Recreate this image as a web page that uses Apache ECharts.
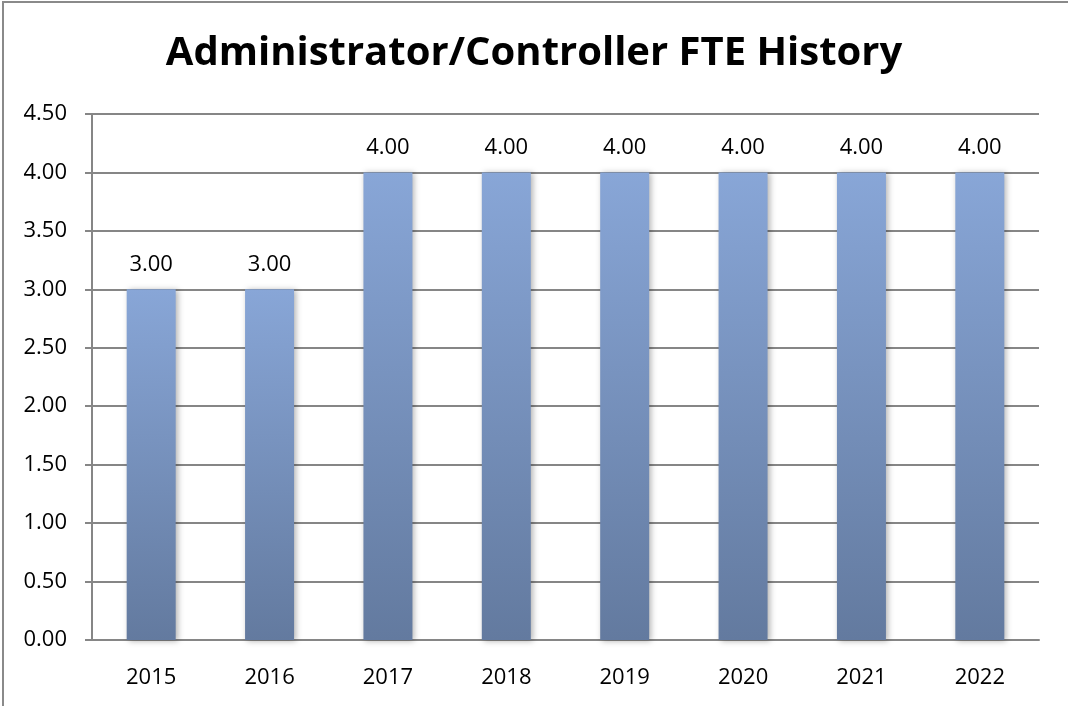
<!DOCTYPE html>
<html>
<head>
<meta charset="utf-8">
<script src="https://cdn.jsdelivr.net/npm/echarts@6/dist/echarts.min.js"></script>
<style>
  html, body { margin: 0; padding: 0; background: #fff; }
  #main { width: 1068px; height: 706px; }
</style>
</head>
<body>
<div id="main"></div>
<script>
// 数据
const years = ["2015", "2016", "2017", "2018", "2019", "2020", "2021", "2022"];
const fte = [3, 3, 4, 4, 4, 4, 4, 4];
const yTicks = { min: 0, max: 4.5, interval: 0.5 };

const chart = echarts.init(document.getElementById("main"));
const font = "Open Sans, Liberation Sans, sans-serif";

chart.setOption({
  animation: false,
  title: {
    text: "Administrator/Controller FTE History",
    left: "center",
    top: 29,
    textStyle: { fontFamily: font, fontSize: 40, fontWeight: "bold", color: "#000" }
  },
  graphic: [{
    type: "rect",
    shape: { x: 3, y: 2, width: 1200, height: 900 },
    style: { fill: "none", stroke: "#8a8a8a", lineWidth: 2 },
    silent: true
  }],
  grid: { left: 92, right: 29, top: 114, bottom: 66 },
  xAxis: {
    type: "category",
    data: years,
    axisLine: { lineStyle: { color: "#868686", width: 2 } },
    axisTick: { length: 8, lineStyle: { color: "#868686", width: 2 } },
    axisLabel: { color: "#000", fontFamily: font, fontSize: 22, margin: 27 }
  },
  yAxis: {
    type: "value",
    min: yTicks.min, max: yTicks.max, interval: yTicks.interval,
    axisLine: { show: true, lineStyle: { color: "#868686", width: 2 } },
    axisTick: { show: true, length: 7, lineStyle: { color: "#868686", width: 2 } },
    splitLine: { lineStyle: { color: "#868686", width: 2 } },
    axisLabel: {
      color: "#000", fontFamily: font, fontSize: 22, margin: 25,
      formatter: v => v.toFixed(2)
    }
  },
  series: [{
    type: "bar",
    data: fte,
    barWidth: 49,
    itemStyle: {
      color: new echarts.graphic.LinearGradient(0, 0, 0, 1, [
        { offset: 0, color: "#88a6d7" },
        { offset: 1, color: "#637a9f" }
      ]),
      shadowBlur: 6,
      shadowOffsetX: 2,
      shadowOffsetY: 1,
      shadowColor: "rgba(0,0,0,0.3)"
    },
    label: {
      show: true,
      position: "top",
      distance: 14,
      color: "#000",
      fontFamily: font,
      fontSize: 22,
      formatter: p => p.value.toFixed(2)
    }
  }]
});
</script>
</body>
</html>
